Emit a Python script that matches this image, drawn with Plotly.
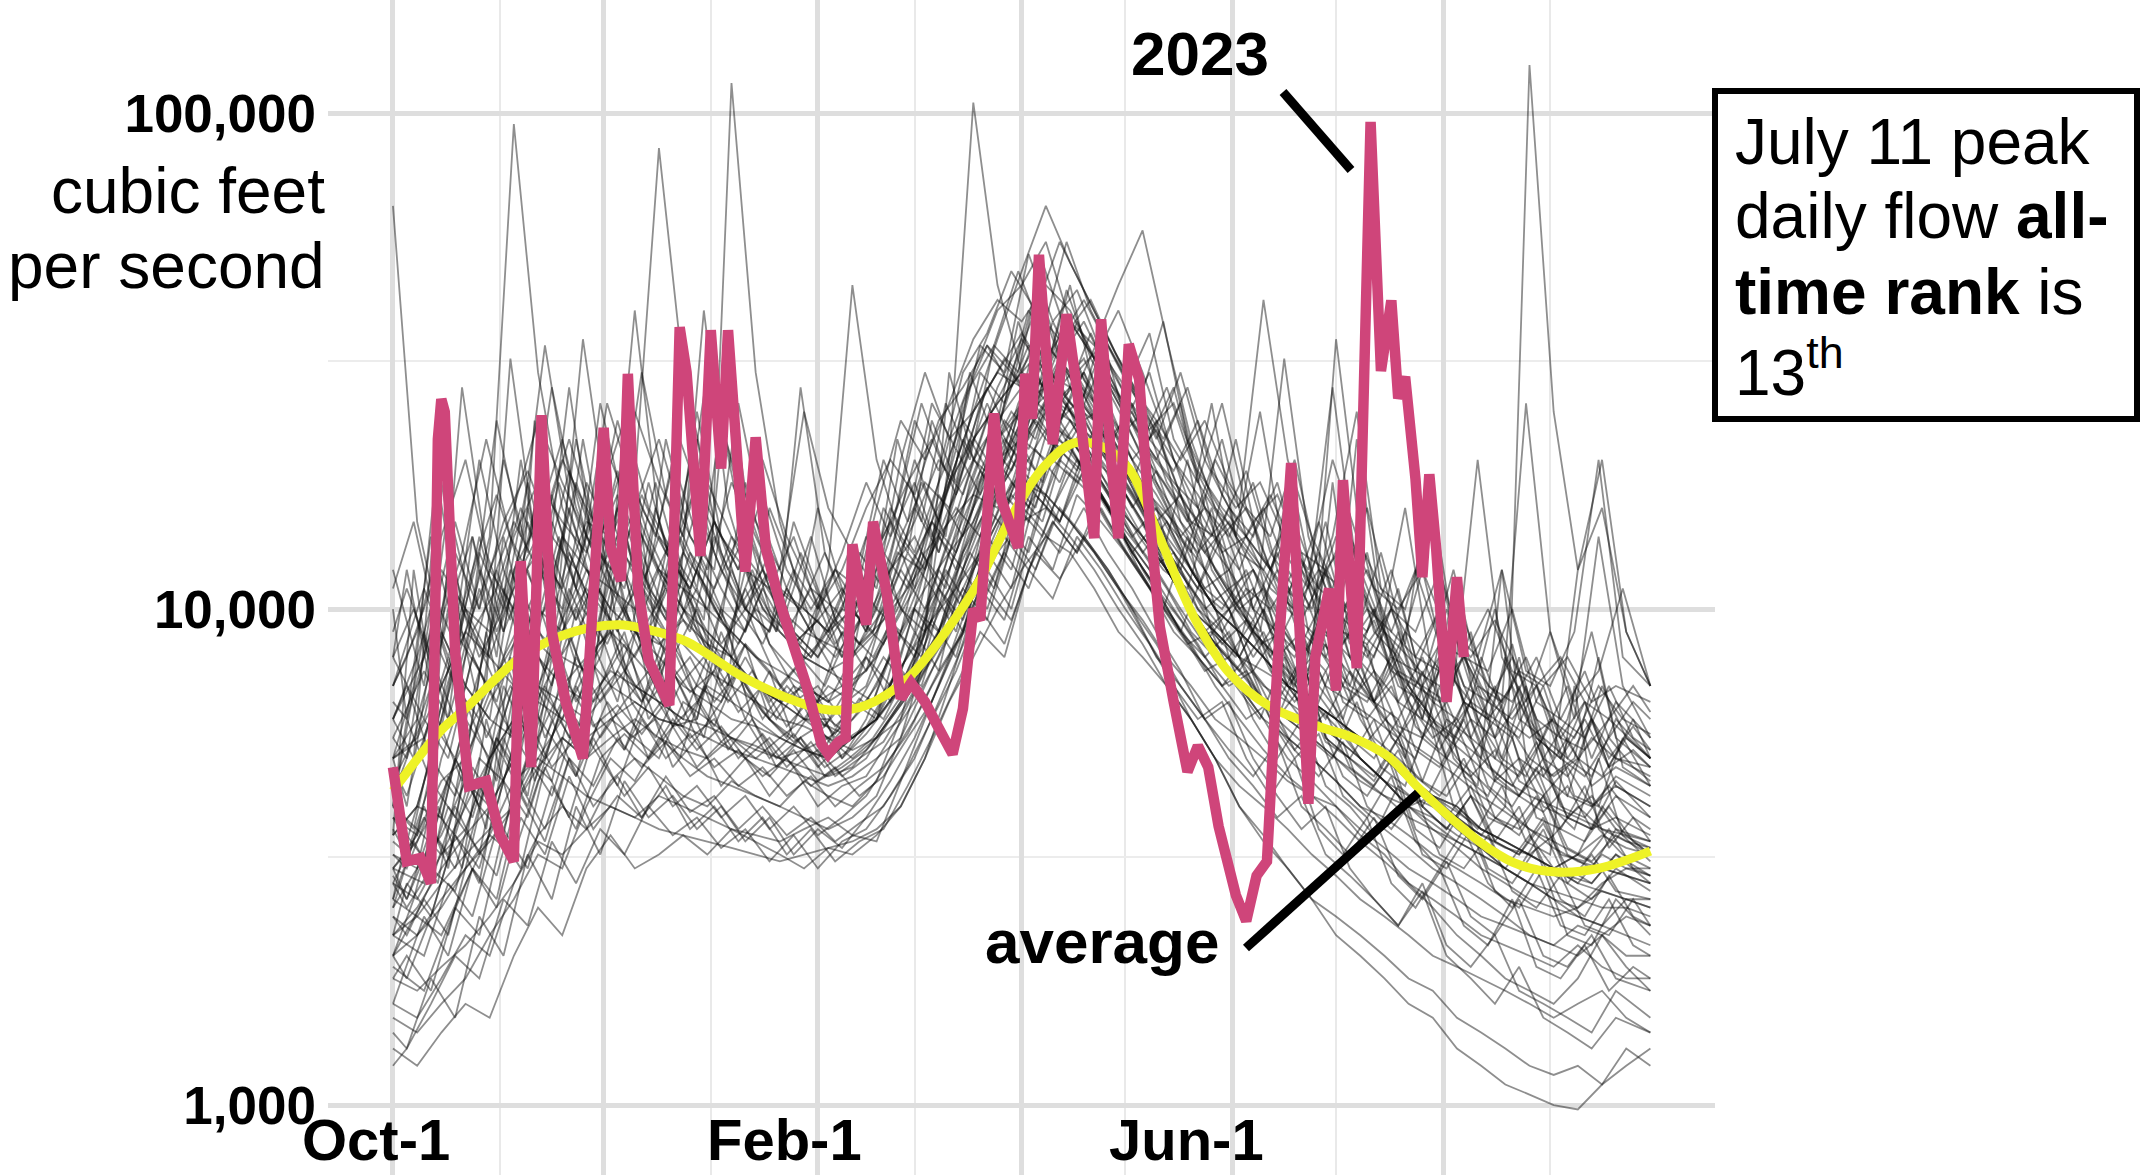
import plotly.graph_objects as go

# ---------------- data (flows in thousands of cubic feet per second) ----------------
week_days = list(range(0, 365, 7))                       # group A sample days (0 = Oct 1)
week_days_b = [0] + list(range(4, 361, 7)) + [364]       # group B sample days
week_days_c = [0] + list(range(9, 361, 7)) + [364]       # group C sample days
week_days_d = [0] + list(range(6, 361, 7)) + [364]       # group D sample days

hist_01 = [3.5,4,6,9,14,95,30,16,12,11, 10,14,12,10,9,8,7.5,7,6.5,7, 9,12,10,14,20,28,35,30,26,24, 20,17,14,12,10,9,8,7,6.5,6, 5.5,5,4.6,4.2,4,3.6,3.4,3.2,3,3.2, 4,3.5,3.2]
hist_02 = [2.2,2.5,3,3.5,4,5,7,6,8,9, 7,6.5,6,8,12,9,7,6,5.5,5, 5.5,6,9,20,105,45,30,40,28,22, 18,15,12,10,8,7,6,5.5,5,4.5, 4,3.8,3.5,3.2,3,2.8,2.6,2.5,2.4,2.5, 2.8,3,3]
hist_03 = [3,3.5,6,10,8,7,9,14,12,10, 16,12,10,9,8,7,6.5,6,6,5.5, 6,9,14,22,30,40,45,55,38,32, 40,30,22,16,12,10,11,9,7,6, 5,4.5,4,4.2,3.8,3.5,4,125,25,12, 16,9,7]
hist_04 = [2.5,3,5,7,6,12,15,22,14,11, 9,12,10,8,115,30,15,10,9,12, 10,9,12,18,25,30,36,30,45,28, 20,16,12,10,9,8,10,7,6,8, 6,5,4.6,4.2,4,3.6,3.4,3.2,3,2.8, 3.2,3,2.9]
hist_05 = [1.3,1.2,1.4,1.6,1.5,2,2.5,2.2,3,3.5, 3,3.2,3.5,3.2,3.6,3.4,3.2,3,3.3,3.2, 3.5,4,5,6.5,8,10,12,14,13,11, 9,8,7,6,5,4,3.5,3,2.6,2.4, 2.2,2,1.8,1.7,1.5,1.4,1.3,1.2,1.15,1.2, 1.1,1.3,1.2]
hist_06 = [1.6,1.5,1.8,2.2,2,2.8,3.5,4,3.6,4.5, 5,4.6,4.2,4,4.5,4.2,4,3.8,3.6,3.8, 4.2,5.5,8,12,16,22,26,28,24,20, 18,15,12,10,8,7,6,5,4.5,4, 3.5,3.2,2.8,2.5,2.2,2,1.8,1.7,1.6,1.8, 2.2,1.9,1.7]
hist_07 = [3.8,3.5,4.5,5,6.5,8,7,9,11,9.5, 8,10,8.5,7.5,7,6.5,6,5.8,5.5,6, 7,9,11,13,15,19,24,27,25,21, 17,14,12,10,8.5,7.5,9,7,6,5.5, 5,4.5,4,3.8,3.5,3.3,3,2.8,2.6,2.5, 2.7,2.6,2.5]
hist_08 = [6,8,12,10,9,14,18,15,13,20, 15,12,11,10,14,11,9,8,7.5,8, 10,14,18,16,22,26,30,28,34,26, 22,25,18,15,14,12,16,12,10,14, 11,9,8,7,9,7,6,5.5,6,5, 4.6,5.5,5]
hist_09 = [2.8,2.6,3.2,4,5,6,5.5,7,8,7, 6.5,6,5.8,5.5,5.2,5,5.5,6,5.8,5.5, 6,8,12,18,25,35,48,65,50,40, 32,26,20,15,12,10,8.5,7.5,6.5,5.8, 5,4.5,4,3.6,3.3,3,2.8,2.6,2.5,2.4, 2.3,2.6,2.5]
hist_10 = [4.5,5,7,9,12,10,14,20,16,13, 25,18,14,30,20,15,12,25,16,13, 11,20,30,22,25,30,28,24,22,19, 16,14,12,10,9,8,7,6.5,6,5.5, 5,4.5,4.2,4,3.8,3.5,3.3,3.2,3.5,4, 3.6,3.4,3.3]
hist_11 = [2,2.2,2.6,3,3.5,4.5,5,4.6,4.2,4, 3.8,3.6,3.5,3.4,3.3,3.2,3.1,3.2,3.3,3.4, 3.6,4,5,7,10,14,20,30,38,32, 26,20,16,12,10,8,6.5,5.5,5,4.5, 4,3.6,3.3,3,2.8,2.6,2.4,2.2,2.1,2.3, 2.2,2,2]
hist_12 = [3.2,3,3.5,4.5,4,5,6.5,6,7.5,9, 8,7,11,9,8,7,6.5,6,7,6.5, 6,7,8.5,11,14,18,22,20,24,20, 16,13,15,12,10,9,8,7,8,35, 14,9,7,6,5,4.5,4,3.6,3.3,3.1, 3,2.9,2.8]
hist_13 = [1.5,1.4,1.6,1.8,2.2,2.6,3.2,3,4,5, 4.5,5.5,5,4.6,4.4,4.2,4,4.5,4.2,4, 4.5,6,7.5,9,12,15,18,17,15,13, 11,9,7.5,6,5,4,3.4,3,2.6,2.2, 2,1.8,1.6,1.5,1.3,1.2,1.1,1.05,1,0.98, 1.1,1.2,1.3]
hist_14 = [5,6,9,7,11,15,12,10,18,14, 12,10,13,11,9,8,7,8,7.5,7, 8,10,13,15,17,16,19,17,15,13, 11,9.5,8,7,6,5.5,5,4.5,4.2,4, 3.6,3.3,3,2.8,2.6,2.4,2.3,2.2,2.1,2, 2.2,2.4,2.3]
hist_15 = [3.5,4,3.8,6,5,7,9,8,7.5,12, 40,15,10,8.5,7.5,7,6.5,7,6.5,8, 14,10,9,30,20,18,26,22,20,18, 15,13,11,9,8,7,6.5,6,5.5,5, 4.6,4.2,3.8,3.6,3.4,3.2,3,3.5,3,2.8, 2.7,2.6,2.6]
hist_16 = [4,3.6,3.2,3.6,5,6,7,6.5,6,7, 9,8,7,6.5,6,5.8,5.5,5.2,5,5.5, 6,7.5,10,12,16,20,22,26,24,22, 19,16,13,11,9.5,8,7.5,7,6.5,6, 7,9,6.5,5.5,6,5,8,6,5,12, 20,9,7]
hist_17 = [2.6,2.4,2.8,3.2,3.6,4,5,6,5.5,6, 6.5,6,5.8,7,6.5,6,5.5,5.2,5,5.5, 6,7,9,11,15,20,26,32,38,34, 45,58,35,22,16,13,12,10,9,8, 7,6,5.4,5,4.6,4.2,3.9,3.6,3.4,3.2, 3,2.9,2.8]
hist_18 = [1.8,1.7,1.9,2.1,2.4,2.8,3.4,3.2,3.6,4, 3.8,4.2,4,3.8,3.6,3.5,3.4,3.6,3.8,3.5, 3.4,4.5,6,8,11,13,15,16,14,12, 10,8.5,7,6,5,4.4,4,3.6,3.2,2.9, 2.6,2.4,2.2,2,1.9,1.8,1.7,1.6,1.5,1.6, 1.7,1.5,1.4]
hist_19 = [3,3.4,4.2,5.5,7,8.5,10,9,12,10, 9,8.5,9.5,8.5,8,10,9,8,12,45, 20,14,12,16,20,24,28,25,22,19, 16,14,12,10,8.5,7.5,6.5,6,5.5,5, 4.5,4.2,4,3.7,3.4,3.2,3,2.8,2.7,2.6, 2.5,2.5,2.4]
hist_20 = [65,15,9,7,6,5.5,8,7,6.5,7.5, 7,6.5,6,5.8,5.5,5.3,5,5.2,5.5,5.2, 5.5,6.5,9,13,17,22,25,30,28,24, 20,16,13,11,9,8,10,8,6.5,6, 5.5,5,4.5,4,3.6,3.3,3,2.8,2.6,2.4, 2.3,2.2,2.1]
hist_21 = [5,5.5,7,9,8,11,13,11,15,14, 18,85,30,18,14,12,10,9,8.5,8, 9,11,14,18,22,26,30,34,30,26, 21,18,15,12,10,9,8,7,6.5,6, 5.5,5,4.6,4.2,3.9,3.6,3.4,3.2,3,3.2, 3.5,3.3,3.2]
hist_22 = [2.4,2.2,2.5,3,3.4,4,4.8,5.5,5,5.5, 6,5.5,5.2,5,5.5,5.2,5,4.8,4.6,4.8, 5.5,6.5,8,10,13,17,21,25,28,24, 20,17,15,13,20,16,42,20,14,11, 9,8,7,6,5.5,5,4.5,4.2,4,3.8, 3.6,3.5,3.4]
hist_23 = [2.2,2.4,2.2,2.8,3.5,3.2,4.5,5.5,5,6, 5.5,5,6.5,6,5.5,5,4.8,4.6,4.4,4.6, 5,5.5,7,9,12,15,19,23,21,18, 15,12,10,8.5,7,6,5.2,4.6,4.2,3.8, 3.4,3.1,2.8,2.6,2.4,2.2,2.1,2,1.9,2.1, 1.9,1.8,1.8]
hist_24 = [7,9,14,20,12,16,24,18,14,12, 16,22,15,12,18,14,11,10,9,10, 16,24,20,26,35,42,38,45,40,32, 26,22,28,20,16,14,12,15,11,9, 12,9,7.5,6.5,6,8,6,5,4.6,5, 7,5.5,5]

hist_b01 = [5,4,8,6,12,9,16,10,22,13, 11,18,12,25,14,10,9,15,11,8, 10,14,18,13,20,28,22,35,26,30, 22,18,24,15,12,16,10,9,13,8, 7,10,6.5,6,9,5.5,5,7,4.6,4.2, 6,4.4,4]
hist_b02 = [3,2.6,3.4,5,4,7,5.5,9,6.5,8, 12,7,9,6.5,8,6,7.5,5.5,6.5,5, 6,8,7,11,9,14,18,16,24,20, 17,14,16,11,9,10,7.5,6.5,8,5.5, 5,6,4.4,4,5,3.6,3.4,4,3,2.8, 3.2,2.7,2.6]
hist_b03 = [8,12,7,15,10,20,13,28,16,12, 18,11,14,22,13,10,12,9,16,11, 9,13,20,15,26,34,28,44,32,38, 30,24,20,26,16,14,18,12,10,15, 9,8,11,7,6.5,9,6,5.5,7,5, 4.6,6,5]
hist_b04 = [2,1.8,2.4,3.5,2.8,5,4,6,4.6,7, 5.2,6.5,4.8,5.5,4.4,5,4.2,4.8,4,4.4, 4.6,5.5,6.5,8,10,13,11,17,15,20, 16,13,11,9,7.5,8,6,5,6,4.4, 4,3.5,4.4,3.2,3,3.6,2.7,2.5,3,2.2, 2.1,2.6,2.2]
hist_b05 = [4.2,5,10,7,6,14,9,8,12,18, 10,8,13,9,7.5,12,8.5,7,6.5,9, 7.5,11,9,15,22,18,30,25,34,28, 24,20,15,17,12,10,11,8.5,7,12, 8,6.5,5.5,7,5,6.5,4.5,4.2,5,3.8, 3.6,4.5,3.8]
hist_b06 = [2.8,2.5,3,2.7,4,3.5,6,4.8,5.5,9, 6.5,7.5,5.8,6,10,7,6,5.4,5.8,5, 5.6,6.5,9,7.5,12,16,14,21,18,24, 26,20,17,14,12,10,8,9.5,7,6, 7.5,5.5,5,4.5,6,4.2,3.8,3.5,4.2,3.2, 3,3.6,3.1]
hist_b07 = [6,7,5,9,7.5,11,8.5,15,11,9, 14,10,8.5,12,9.5,18,12,9,8,10, 14,11,16,13,19,26,20,30,24,27, 21,26,18,14,16,12,10,13,9,8, 10,7.5,6.5,8,6,5.5,7,5,4.6,5.5, 4.4,4.8,4.4]
hist_b08 = [1.4,1.3,1.6,2,1.8,2.6,2.3,3.4,2.8,3.6, 3.2,4,3.5,3.8,3.3,3.6,3.1,3.5,3,3.4, 3.6,4.2,5,6.5,8.5,11,9.5,13,11.5,14, 12,10,8.5,7,6,5,4.4,3.8,4.2,3.2, 2.9,2.6,2.3,2.8,2.1,1.9,2.2,1.7,1.6,1.5, 1.4,1.7,1.5]
hist_b09 = [10,6,14,9,20,12,9,17,11,26, 16,12,20,14,11,9,16,12,10,13, 18,14,24,19,30,36,48,40,55,44, 35,28,22,30,20,16,14,18,12,10, 14,9,8,12,7.5,6.5,10,6,5.5,7, 5,6.5,5.5]
hist_b10 = [3.6,3.2,4.5,3.8,6,5,7.5,6,10,7, 8.5,6.5,7.5,6,9,6.8,6,7,5.6,6.4, 7,9.5,8,12,10,15,20,17,23,19, 16,13,15,11,9,8,9.5,7,6,7.5, 5.5,5,6,4.5,4.2,5,3.8,3.6,4.2,3.3, 3.1,3.5,3.2]
hist_b11 = [2.4,2.2,2.8,4,3.2,5.5,4.2,8,5.5,7, 9,6,7,5.5,6.5,8.5,6,5.5,5,6, 8,6.5,7.5,9,11,14,12,18,22,19, 16,13,11,9,12,8,7,6,8,5.5, 5,4.6,5.5,4,3.6,4.2,3.3,3,3.6,2.8, 2.6,3,2.7]
hist_b12 = [4,6,4.5,8,14,9,12,8.5,11,16, 12,9,15,11,24,15,10,8.5,9.5,8, 12,15,11,17,14,20,25,22,32,26, 22,18,14,12,17,11,9.5,12,8.5,7.5, 9,6.5,6,7.5,5.5,5,6,4.5,4.2,4.8, 4,4.4,4]
hist_b13 = [1.2,1.3,1.8,1.5,2.4,2,3.2,2.6,4,3.2, 4.5,3.8,4.2,3.6,4,3.4,3.8,3.2,3.6,3.3, 3.8,4.5,5.5,7,9,12,10,15,13,16, 13,11,9,7.5,6,6.5,5,4.2,3.6,4, 3,2.6,2.3,2.7,2,1.8,1.6,1.9,1.5,1.4, 1.3,1.5,1.4]
hist_b14 = [7,8,11,8.5,13,10,18,12,9.5,14, 20,14,11,16,12,10,9,12,8.5,10, 9.5,12,15,20,17,24,30,26,36,29, 25,20,23,17,14,12,15,11,9.5,12, 8.5,10,7.5,7,8.5,6.5,6,7.5,5.5,5, 6,5,4.8]
hist_b15 = [3.2,3,4,3.5,5,4.5,6.5,5.5,8,6.5, 7.5,6.5,8.5,7,6.5,8,6.5,7.5,6.5,7, 8,7,10,9,13,16,19,24,21,25, 20,17,14,12,10,11,9,8,7,8.5, 6.5,6,5.5,6.5,5,4.6,5.2,4.2,3.9,4.4, 3.6,3.8,3.5]
hist_b16 = [2.6,3.5,3,5,4,6,5,4.5,7,5.5, 6.5,5,5.8,4.8,5.4,5,4.6,5.2,4.5,4.8, 5.2,6,7,8.5,11,9.5,14,18,15,21, 17,14,12,10,8.5,10,7.5,9,6.5,11, 8,6.5,9,6,10,7,5.5,8,5,6, 9,5.5,4.8]
hist_b17 = [5.5,5,7,11,8,10,15,11,18,13, 10,12,9,11,8.5,10,13,9,8,9.5, 11,16,13,18,24,20,28,34,28,32, 25,21,18,15,13,11,12,9.5,8,10, 7.5,6.5,8,6,5.5,6.5,5,4.6,5.5,4.2, 4,4.6,4.2]
hist_b18 = [1.8,2,1.7,2.5,2.2,3.6,3,4.4,3.6,5, 4.2,4.8,4,4.4,3.8,4.2,3.6,4,3.5,3.8, 4.2,5,6,7.5,9,11,14,12,16,14, 12,10,8,7,6,5.2,4.6,5.4,4,3.6, 3.2,3.8,2.9,2.6,3.1,2.4,2.2,2.6,2,1.9, 2.2,1.8,1.7]
hist_b19 = [4.8,4.2,6,5,7.5,6,9,7,12,8.5, 10,8,14,9.5,8,11,8.5,7.5,8.5,7, 7.5,9,11,14,12,18,22,19,28,24, 20,16,19,14,11,10,12,9,8,9.5, 7,6.5,7.5,5.5,5,6,4.6,4.2,4.8,3.8, 3.6,4.2,3.8]
hist_b20 = [2.2,2.8,2.4,3.5,3,4.5,3.8,5.5,4.6,6, 5.2,7,5.8,6.5,5.4,6,5,5.6,4.8,5.4, 5.8,7,8.5,11,9.5,13,17,15,20,18, 15,12.5,10.5,9,8,9,6.8,6,7,5.4, 5,4.5,5.5,4.2,3.8,4.4,3.4,3.2,3.8,2.9, 2.8,3.2,2.8]
hist_b21 = [3.8,3.4,5,4.2,6,8,6,7.5,9,11, 7.5,9,8,10,7,8.5,7.5,6.5,7,6, 6.5,8,10,8.5,13,17,21,28,24,30, 24,19,16,13,11,12,9,8,9,7, 6.5,7.5,5.8,5.5,6.5,5,4.5,5,4,3.8, 4.2,3.6,3.4]
hist_b22 = [9,11,8,13,10,15,19,14,12,17, 24,16,13,18,14,12,11,14,10,12, 16,20,17,24,28,34,30,40,35,42, 34,28,24,20,24,18,15,17,13,12, 14,11,10,12,9,8,9.5,7.5,7,8, 6.5,7,6.5]
hist_b23 = [2.9,2.6,3.6,3,4.4,3.6,5,4.2,6,5, 5.6,5,6,5.2,5.8,5,5.5,4.8,5.2,4.6, 5,6,7,9,12,10,14,17,15,19, 16,13,11,9.5,8,7,7.5,6,5.4,6.2, 4.8,4.4,5.2,4,3.6,4.2,3.4,3.2,3.7,3, 2.8,3.2,2.9]
hist_b24 = [6.5,6,9,7,11,8,10,13,9.5,12, 15,11,9.5,13,10,9,12,8.5,9.5,11, 9,12,14,11,16,22,19,26,32,27, 22,25,19,16,13,15,12,10,12,9, 8,9.5,7,6.5,8,6,5.5,6.5,5,4.6, 5.5,5,4.6]

hist_c01 = [4,9,6,14,8,20,11,28,13,17, 10,22,14,12,26,15,11,9,12,10, 16,13,24,18,30,26,40,33,28,36, 24,30,20,16,22,14,12,17,10,9, 13,8,7.5,10,6.5,6,8.5,5.5,5,6.5, 4.8,6,5]
hist_c02 = [2.5,4,3,6,4.5,8,5.5,7,12,8, 6.5,9,7,5.8,7.5,6.2,5.5,7,5.8,6.5, 8,7,11,9,14,19,16,22,19,25, 19,16,13,11,14,9.5,8,10,7,6, 8.5,5.5,5,7,4.6,4.2,5.5,3.8,3.6,4.4, 3.3,3.8,3.4]
hist_c03 = [12,7,16,10,24,14,34,17,12,19, 14,11,16,28,16,12,10,14,9.5,12, 20,15,26,21,34,30,52,38,44,33, 28,36,22,18,26,16,14,20,12,11, 16,10,9,12,8,7.5,10,6.5,6,7.5, 5.5,6.5,6]
hist_c04 = [1.6,2.4,2,3,2.6,4.2,3.4,5,4,4.6, 3.8,4.4,3.6,4,3.4,3.8,3.2,3.6,3.1,3.4, 3.6,4.4,5.5,7,9,8,12,10.5,14,12, 10,8.5,7,6,6.5,5,4.2,5,3.6,3.2, 3.8,2.8,2.5,3,2.3,2.1,2.6,1.9,1.8,2.1, 1.7,1.9,1.8]
hist_c05 = [6,8,13,9,11,16,12,19,14,24, 16,13,11,15,12,20,14,11,10,13, 11,18,14,21,17,26,34,27,38,30, 26,22,28,18,15,19,13,11,15,10, 9,12,8,7.5,9.5,7,6.5,8,6,5.5, 7,5.5,5.2]
hist_c06 = [3,2.8,4,3.4,5.5,4.4,7,5.5,8.5,6.5, 10,7,8,6.5,7.5,6,7,6.2,5.6,6.6, 6,7.5,9.5,8,12,15,13,19,23,20, 17,14,12,10,9,11,8,7,9.5,6.5, 6,7,5.2,4.8,6,4.4,4,4.8,3.6,3.4, 4,3.4,3.2]
hist_c07 = [8,6,10,14,9,12,18,13,10,14, 30,17,13,11,14,10,9,11,8.5,10, 13,11,15,13,19,24,21,29,25,33, 27,22,19,24,17,14,12,15,11,10, 12,9,8,10,7,6.5,8,6,5.5,6.5, 5,5.8,5.2]
hist_c08 = [2.2,2,2.8,2.4,3.6,3,4.8,3.8,5.5,4.4, 6,5,5.6,4.8,5.2,4.6,5,4.4,4.8,4.2, 4.6,5.5,6.5,8.5,11,9.5,14,12,17,15, 13,11,9,8,7,7.5,6,5.2,6,4.6, 4.2,5,3.6,3.3,4,3,2.8,3.3,2.6,2.4, 2.9,2.4,2.3]
hist_c09 = [5,5.5,8,6,12,8.5,10,16,11,9, 12,9.5,20,13,10,8.5,11,9,8,9.5, 8.5,12,15,12,18,22,19,28,24,36, 29,24,20,17,14,16,12,10,13,9, 8,10,7,6.5,8,6,5.5,7,5,4.6, 5.5,4.8,4.5]
hist_c10 = [3.4,3,4.6,3.8,5.5,4.6,6.5,9,6.5,7.5, 6.5,8,6.8,7.5,6.2,7,5.8,6.6,5.5,6.2, 6.8,8,9.5,11,13,17,15,20,18,22, 18,15,13,11,10,12,9,8,10,7, 6.5,8,5.8,5.2,6.5,4.8,4.4,5.4,4,3.8, 4.4,3.8,3.6]
hist_c11 = [1.9,1.7,2.3,3,2.5,3.8,3.2,4.6,3.6,4.2, 3.8,4.6,3.9,4.2,3.6,4,3.5,3.8,3.4,3.7, 4,4.8,6,7.5,10,8.5,12,15,13,17, 14,12,10,8.5,7,8,6,5,5.6,4.2, 3.8,4.6,3.4,3,3.6,2.8,2.5,3,2.3,2.2, 2.6,2.1,2]
hist_c12 = [7,11,8,12,17,12,15,22,15,12, 17,13,11,15,12,17,12,10,12,11, 14,18,22,17,26,32,27,38,30,34, 27,23,26,19,16,14,17,13,11,14, 10,9,12,8.5,8,10,7.5,7,8,6.5, 6,7,6.2]
hist_c13 = [2.8,3.8,3.2,4.8,4,6,5,7,5.8,6.4, 5.6,6.5,5.5,6,5,5.6,4.8,5.4,4.6,5, 5.4,6.5,8,9.5,11,14,12,16,20,17, 14,12,13,10,8.5,9.5,7.5,6.5,7.5,5.8, 5.4,6.2,4.6,4.2,5,3.8,3.6,4.2,3.2,3.1, 3.6,3,2.9]
hist_c14 = [4.5,6,5,8,6.5,9.5,7.5,11,8.5,13, 9,11,9,14,10,12,9,8,10,8.5, 9.5,11,13,16,14,20,26,22,29,24, 20,17,15,13,15,11,10,12,9,8.5, 10,7.5,7,8.5,6.5,6,7,5.5,5,6, 4.8,5.2,4.8]
hist_c15 = [2,2.6,2.2,3.4,2.9,4.4,3.6,5,4.4,5.5, 4.8,5.4,4.6,5,4.4,4.8,4.2,4.6,4,4.4, 4.8,5.6,7,8.5,10,13,11,15,13,16, 13,11,9.5,8,7,6,6.5,5.2,4.6,5.4, 4,3.6,4.2,3.2,3,3.5,2.7,2.5,2.9,2.3, 2.2,2.6,2.3]
hist_c16 = [5.5,7.5,6,9,7,11,8.5,13,10,16, 11,9,13,10,8.5,11,9,8,9.5,8.5, 10,13,11,15,19,16,23,28,24,31, 25,21,18,16,13,14,11,10,12,9, 8.5,10,7.5,7,8,6.5,6,7,5.5,5.2, 6,5.4,5]

hist_d01 = [6,5,18,9,7,32,14,10,22,12, 9,16,11,40,16,11,9,13,10,8.5, 11,22,15,26,20,34,48,36,55,40, 32,26,38,22,17,14,25,13,11,28, 12,9,16,8,7,20,8,6.5,9,6, 14,7,5.5]
hist_d02 = [3.5,12,6,4.5,9,5.5,24,10,7,15, 9,7,12,8.5,7,20,10,8,7,9, 8,10,13,11,18,24,20,30,26,22, 19,16,13,20,12,10,9,16,9,7.5, 22,10,7,6,11,6,5,7,4.6,5, 8,4.8,4.4]
hist_d03 = [8,10,7,28,13,9.5,16,11,35,16, 12,10,14,11,9,12,9,28,13,10, 9,12,18,14,30,22,38,28,44,32, 26,21,18,15,26,14,12,32,14,10, 9,13,8.5,18,9,7,6.5,26,9,6.5, 7.5,11,7]
hist_d04 = [2.6,3.4,2.8,5,3.6,8,4.5,6,5,12, 6.5,5.5,7,5.5,9,6,5,5.5,4.8,5.2, 6,7.5,7,10,13,11,17,15,22,18, 15,12,10,14,9,8,12,7.5,6.5,18, 8,6,5,8,5,4.4,12,5,4,3.6, 5,3.5,3.3]
hist_d05 = [11,15,9,13,22,14,11,18,13,26, 18,14,22,16,12,15,11,10,13,9.5, 12,16,26,19,28,34,30,50,36,42, 33,27,22,28,19,16,18,14,12,20, 14,11,10,15,9,8,12,7.5,7,9, 20,8,7]
hist_d06 = [4,3.6,6,9,5.5,7,6,10,7.5,9, 20,9,7,8,6.5,7.5,6,7,5.8,7, 6.5,9,8,12,10,16,22,18,26,20, 17,14,12,11,16,10,8.5,9,7.5,11, 8,7,9,6,5.5,7,5,4.6,6,4.2, 4,5.5,4.4]
hist_d07 = [5,7,20,10,8,12,9,14,10,8.5, 11,18,12,9.5,30,14,10,8.5,11,8, 9,13,12,17,22,18,26,32,27,36, 28,22,19,16,14,22,13,11,10,14, 25,11,9,8,12,7.5,6.5,8,6,5.5, 7,6,5.6]
hist_d08 = [2,2.6,4,3,6,4,5,8,5,6.5, 5.5,6,5,7,5.2,6,4.8,5.5,4.6,5, 5.5,6.5,7.5,9,11,13,16,14,19,17, 14,12,10,8.5,9,7,6,8,5.5,5, 6.5,4.8,4.4,6,4,3.6,4.4,3.4,3.2,7, 3.6,3.2,3]

hist_group_a = [hist_01, hist_02, hist_03, hist_04, hist_05, hist_06, hist_07, hist_08,
                hist_09, hist_10, hist_11, hist_12, hist_13, hist_14, hist_15, hist_16,
                hist_17, hist_18, hist_19, hist_20, hist_21, hist_22, hist_23, hist_24]
hist_group_b = [hist_b01, hist_b02, hist_b03, hist_b04, hist_b05, hist_b06, hist_b07, hist_b08,
                hist_b09, hist_b10, hist_b11, hist_b12, hist_b13, hist_b14, hist_b15, hist_b16,
                hist_b17, hist_b18, hist_b19, hist_b20, hist_b21, hist_b22, hist_b23, hist_b24]
hist_group_c = [hist_c01, hist_c02, hist_c03, hist_c04, hist_c05, hist_c06, hist_c07, hist_c08,
                hist_c09, hist_c10, hist_c11, hist_c12, hist_c13, hist_c14, hist_c15, hist_c16]
hist_group_d = [hist_d01, hist_d02, hist_d03, hist_d04, hist_d05, hist_d06, hist_d07, hist_d08]

y2023_days = [0,4,8,11,13,14,15,18,22,27, 31,35,37,40,43,46,50,55,57,61, 63,66,68,71,74,80,83,85,89,92,
              95,97,102,105,108,112,120,124,126,129, 131,133,137,139,143,147,150,154,158,162,
              165,168,170,174,176,181,183,185,187,191, 195,198,203,205,208,210,213,216,219,222,
              226,230,233,236,239,244,247,250,253,256, 260,263,265,267,271,273,275,279,280,283,
              286,289,291,293,296,298,300,302,305,308, 310]
y2023_kcfs = [4.8,3.1,3.15,2.8,22,26.5,25,8.2,4.4,4.5, 3.5,3.1,12.5,4.8,24.6,9,6.5,5,8.2,23.2,
              13.3,11.4,29.8,11,7.9,6.4,37,30,12.8,36.5, 19.2,36.5,11.9,22.2,13.2,10.3,6.9,5.35,5.1,5.4,
              5.5,13.5,9.3,15,10.7,6.6,7.1,6.5,5.75,5.1, 6.3,10,9.5,24.8,16.7,13.3,29.8,24.2,51.8,21.5,
              39.3,27.8,13.9,38.4,19.6,13.9,34.2,29.1,15.3,9.2, 6.5,4.7,5.3,4.8,3.65,2.65,2.35,2.9,3.1,7.6,
              19.7,6.7,4.05,8,11,6.85,18.2,7.6,13.2,96, 30.2,41.9,26.6,29.4,18.3,11.6,18.7,13.2,6.5,11.6,
              8]

avg_days = [0,14,21,36,49,65,75,85,102,120, 128,137,149,160,170,178,188,197,205,213,
            222,232,242,254,268,278,288,297,307,317, 326,337,349,364]
avg_kcfs = [4.3,5.7,6.3,7.9,8.85,9.3,9.05,8.6,7.25,6.4, 6.25,6.4,7.25,9.0,11.5,14.9,19.2,21.6,21.3,19.2,
            13.9,9.6,7.45,6.35,5.8,5.5,5.05,4.35,3.75,3.3, 3.05,2.95,3.0,3.25]

month_major_days = [0, 61, 123, 182, 243, 304]     # Oct, Dec, Feb, Apr, Jun, Aug
month_minor_days = [31, 92, 151, 212, 273, 335]    # Nov, Jan, Mar, May, Jul, Sep
x_label_text = ["Oct-1", "Feb-1", "Jun-1"]
x_label_days = [0, 123, 243]
y_tick_vals = [1000, 10000, 100000]
y_tick_text = ["1,000", "10,000", "100,000"]
y_minor_vals = [3162.28, 31622.8]

# ---------------- figure ----------------
W, H = 2143, 1175
L, R, T, B = 328, 428, 0, 0
PW = W - L - R
FONT = "Liberation Sans, Arial, Helvetica, sans-serif"


def px(xp):
    return (xp - L) / PW


def py(yp):
    return 1 - yp / H


fig = go.Figure()

GRAY = dict(color="rgba(15,15,15,0.47)", width=1.8)
for grid, group in [(week_days, hist_group_a), (week_days_b, hist_group_b),
                    (week_days_c, hist_group_c), (week_days_d, hist_group_d)]:
    for s in group:
        fig.add_trace(go.Scatter(x=grid, y=[v * 1000 for v in s], mode="lines",
                                 line=GRAY, hoverinfo="skip", showlegend=False))

fig.add_trace(go.Scatter(
    x=avg_days, y=[v * 1000 for v in avg_kcfs], mode="lines",
    line=dict(color="#eef226", width=9, shape="spline", smoothing=1.0),
    showlegend=False))

fig.add_trace(go.Scatter(
    x=y2023_days, y=[v * 1000 for v in y2023_kcfs], mode="lines",
    line=dict(color="#cf457a", width=10.5),
    showlegend=False))

fig.update_layout(
    width=W, height=H,
    margin=dict(l=L, r=R, t=T, b=B, pad=0),
    paper_bgcolor="white", plot_bgcolor="white",
    font=dict(family=FONT, color="black"),
    showlegend=False,
    xaxis=dict(
        range=[-18.8, 382.7],
        tickmode="array", tickvals=month_major_days,
        showticklabels=False, ticks="",
        showgrid=True, gridcolor="#dedede", gridwidth=5,
        zeroline=False, showline=False,
        minor=dict(tickvals=month_minor_days, showgrid=True,
                   gridcolor="#e9e9e9", gridwidth=2, ticks=""),
    ),
    yaxis=dict(
        type="log", range=[2.859, 5.228],
        tickmode="array", tickvals=y_tick_vals, ticktext=y_tick_text,
        tickfont=dict(family=FONT, size=53, color="black", weight="bold"),
        ticks="", ticklabelstandoff=11,
        showgrid=True, gridcolor="#dedede", gridwidth=5,
        zeroline=False, showline=False,
        minor=dict(tickvals=y_minor_vals, showgrid=True,
                   gridcolor="#ececec", gridwidth=2, ticks=""),
    ),
)

annotations = []
for txt, base in [("cubic feet", 213), ("per second", 288)]:
    annotations.append(dict(
        text=txt, xref="paper", yref="paper", x=px(327), y=py(base - 0.35 * 64),
        xanchor="right", yanchor="middle", showarrow=False,
        font=dict(family=FONT, size=64, color="black")))

x_shifts = [-17, -33, -46]
for txt, d, sh in zip(x_label_text, x_label_days, x_shifts):
    annotations.append(dict(
        text=txt, xref="x", yref="paper", x=d, y=py(1160 - 0.35 * 58), xshift=sh,
        xanchor="center", yanchor="middle", showarrow=False,
        font=dict(family=FONT, size=58, color="black", weight="bold")))

annotations.append(dict(
    text="2023", xref="paper", yref="paper", x=px(1200), y=py(75 - 0.35 * 62),
    xanchor="center", yanchor="middle", showarrow=False,
    font=dict(family=FONT, size=62, color="black", weight="bold")))
annotations.append(dict(
    text="average", xref="paper", yref="paper", x=px(1102), y=py(963 - 0.35 * 62),
    xanchor="center", yanchor="middle", showarrow=False,
    font=dict(family=FONT, size=62, color="black", weight="bold")))

box_lines = ["July 11 peak", "daily flow <b>all-</b>", "<b>time rank</b> is", "13<sup>th</sup>"]
box_base = [164, 238, 314, 390]
for txt, base in zip(box_lines, box_base):
    annotations.append(dict(
        text=txt, xref="paper", yref="paper", x=px(1733), y=py(base - 0.35 * 64),
        xanchor="left", yanchor="middle", showarrow=False, align="left",
        font=dict(family=FONT, size=64, color="black")))

fig.update_layout(annotations=annotations)

shapes = [
    dict(type="line", xref="paper", yref="paper",
         x0=px(1283), y0=py(92), x1=px(1351), y1=py(170),
         line=dict(color="black", width=9)),
    dict(type="line", xref="paper", yref="paper",
         x0=px(1246), y0=py(948), x1=px(1418), y1=py(793),
         line=dict(color="black", width=9)),
    dict(type="rect", xref="paper", yref="paper",
         x0=px(1715), y0=py(419), x1=px(2137), y1=py(91),
         line=dict(color="black", width=6), fillcolor="rgba(0,0,0,0)"),
]
fig.update_layout(shapes=shapes)

fig.write_html("out.html", config={"displayModeBar": False},
               post_script="document.body.style.margin='0px';")
